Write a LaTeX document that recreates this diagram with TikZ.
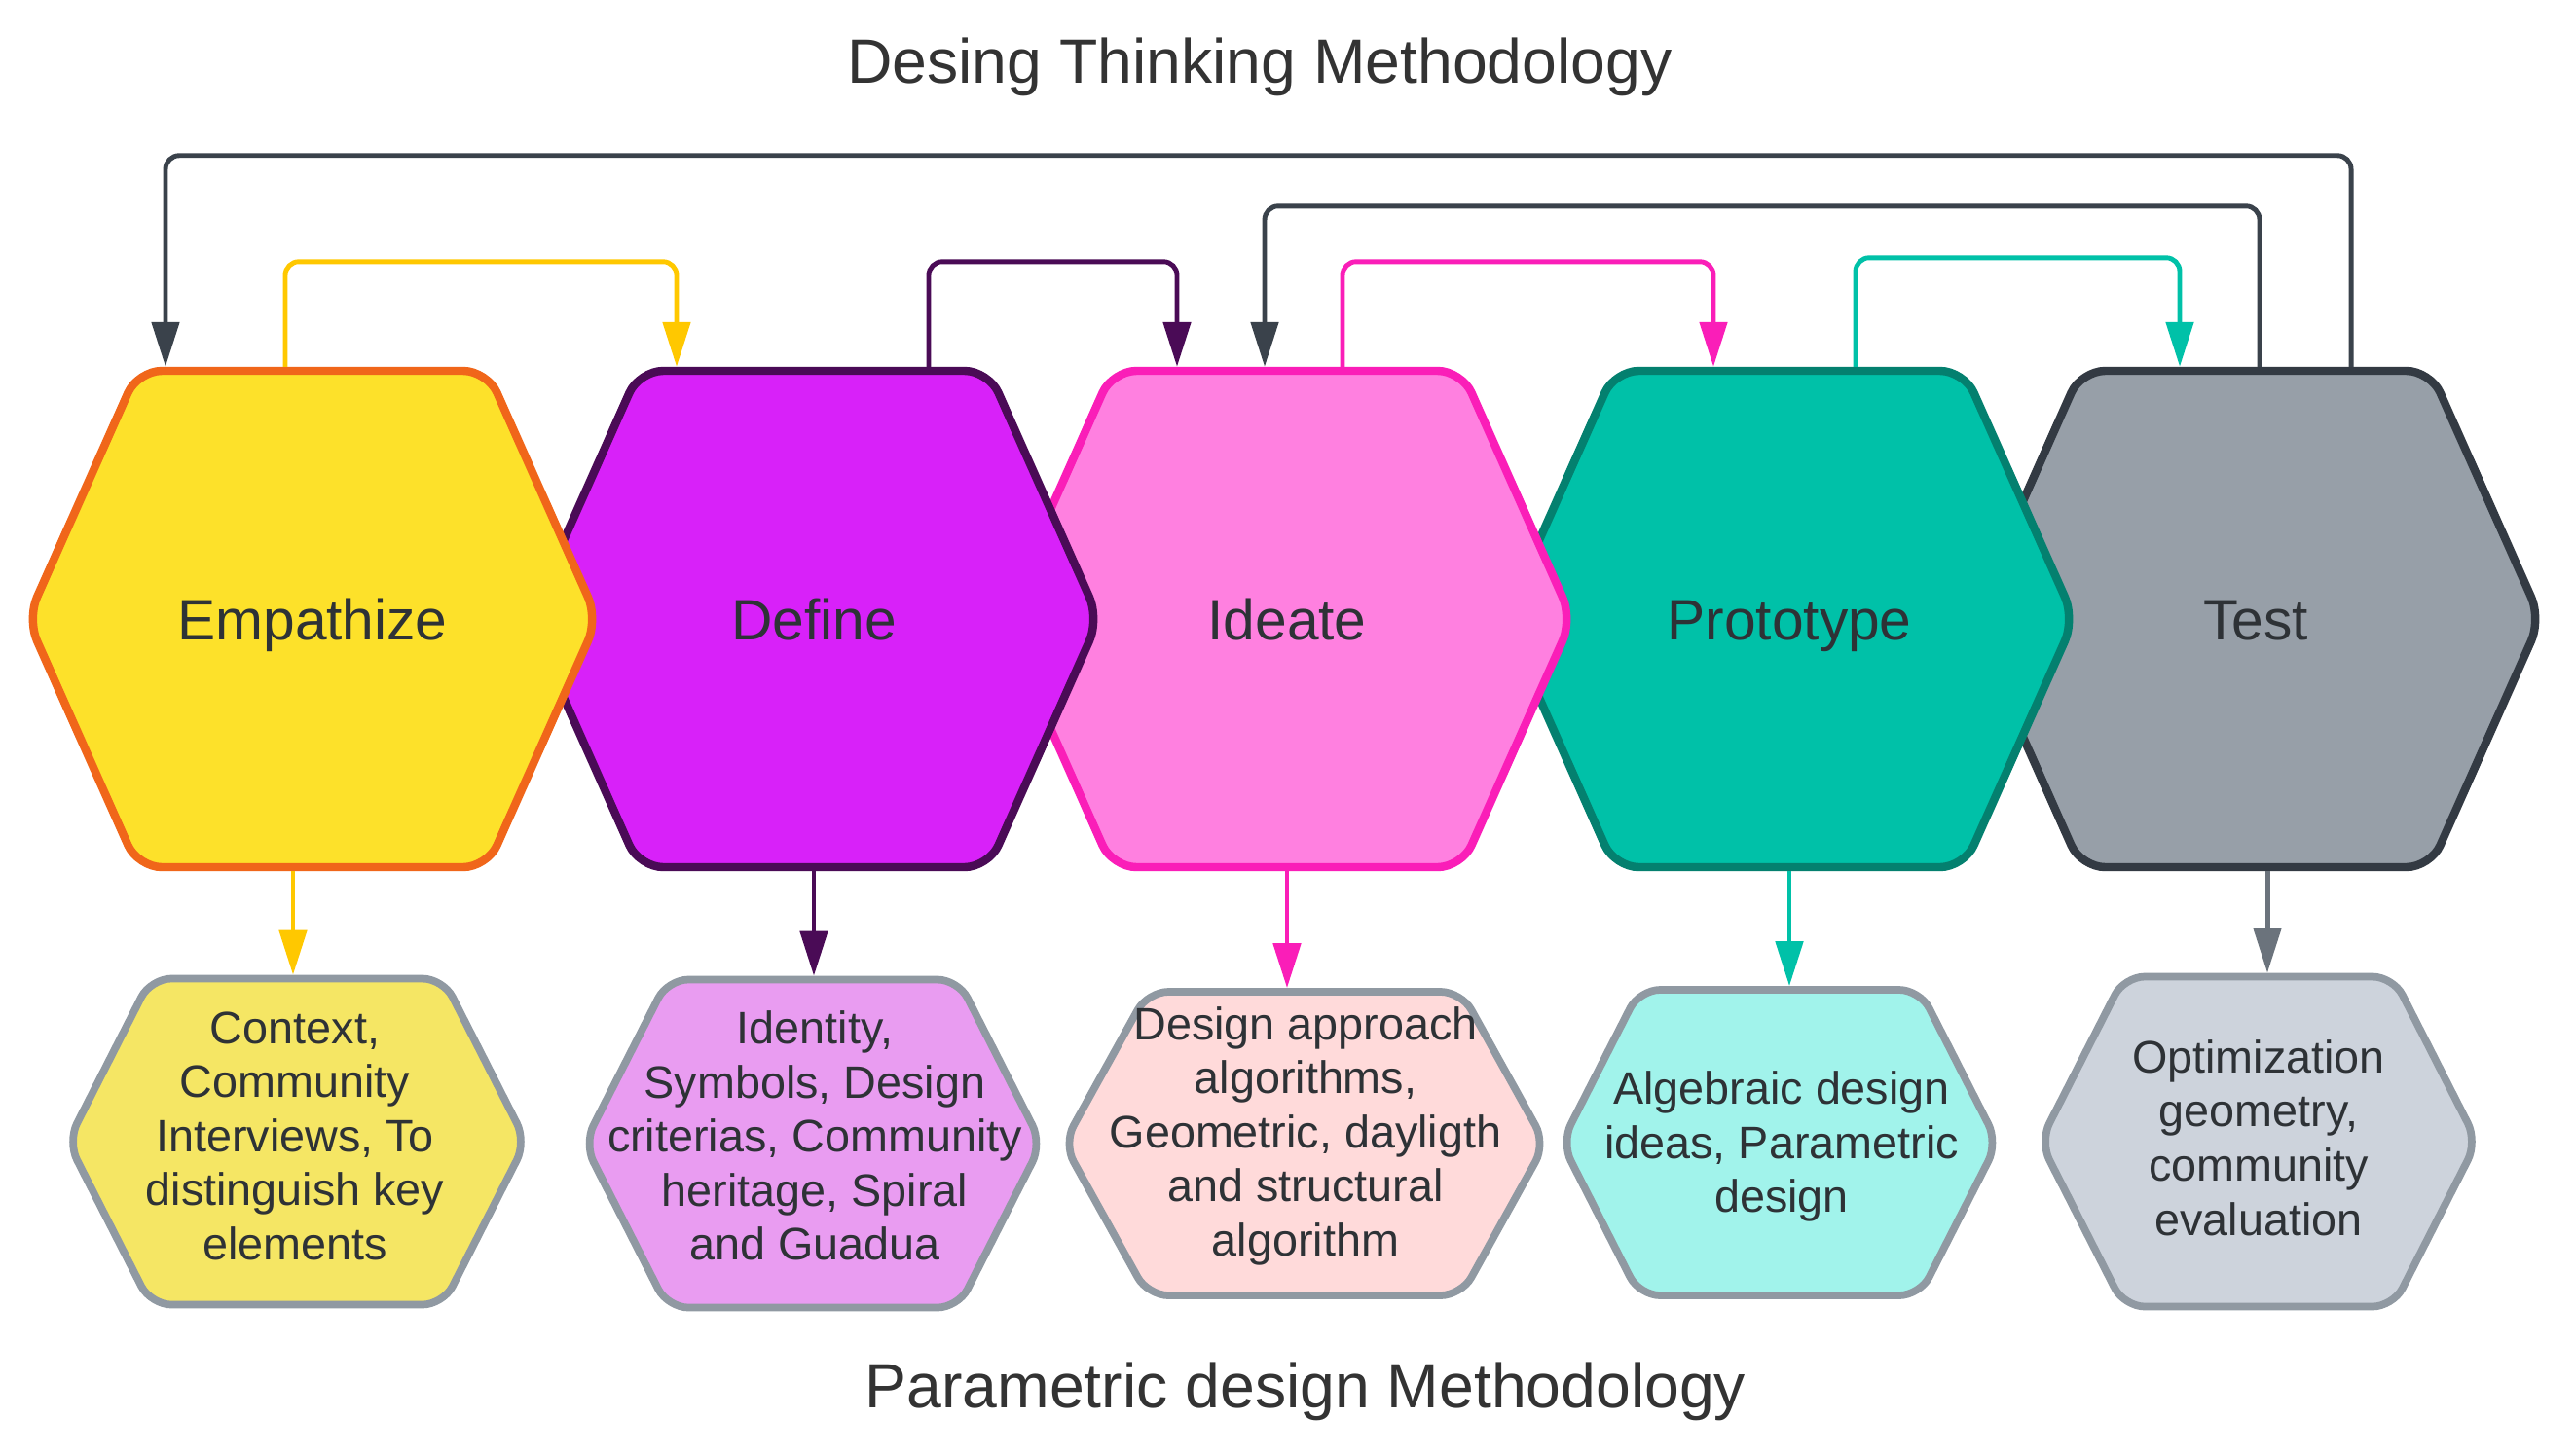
\documentclass[tikz,border=0pt]{standalone}
\usepackage{fontspec}
\setmainfont{Liberation Sans}
\usetikzlibrary{shapes.symbols,arrows.meta}
\definecolor{empfill}{HTML}{FDE12A}
\definecolor{empline}{HTML}{F0661A}
\definecolor{deffill}{HTML}{D821F9}
\definecolor{defline}{HTML}{4A0B56}
\definecolor{idefill}{HTML}{FF80E0}
\definecolor{ideline}{HTML}{FA1EB8}
\definecolor{profill}{HTML}{00C1A8}
\definecolor{proline}{HTML}{04806F}
\definecolor{tstfill}{HTML}{979FA8}
\definecolor{tstline}{HTML}{333A43}
\definecolor{ctxfill}{HTML}{F5E664}
\definecolor{idnfill}{HTML}{E99CF1}
\definecolor{dsgfill}{HTML}{FFDADA}
\definecolor{algfill}{HTML}{A1F3EB}
\definecolor{optfill}{HTML}{CDD3DC}
\definecolor{subline}{HTML}{9099A2}
\definecolor{yel}{HTML}{FFC800}
\definecolor{darkarr}{HTML}{3A424B}
\definecolor{greyarr}{HTML}{6B737C}
\definecolor{txtdark}{HTML}{2E3236}
\tikzset{
  every node/.style={text=txtdark},
  phase/.style={
    shape=signal, signal to=east and west, signal pointer angle=132,
    draw=#1line, fill=#1fill, line width=2.4pt, rounded corners=7pt,
    minimum width=5.86cm, minimum height=5.10cm, inner sep=0pt,
    text height=12pt, text depth=0pt,
    font=\fontsize{16.7}{20}\selectfont
  },
  sub/.style={
    shape=signal, signal to=east and west, signal pointer angle=126,
    draw=subline, fill=#1, line width=2.2pt, rounded corners=6pt, inner sep=0pt
  },
  subtxt/.style={align=center, inner sep=0pt, font=\fontsize{13.3}{15.8}\selectfont},
  head/.style={font=\fontsize{18.3}{22}\selectfont, text=black!80},
  flow/.style={draw=#1, line width=1.4pt, rounded corners=4pt,
    -{Triangle[length=0.46cm,width=0.28cm]}}
}

\begin{document}
\begin{tikzpicture}
\fill[white] (0,0) rectangle (26.45,-14.95);
\useasboundingbox (0,0) rectangle (26.45,-14.95);

\node[head] (top) at (12.94,-0.69) {Desing Thinking Methodology};
\node[head] (bottom) at (13.41,-14.30) {Parametric design Methodology};

% main phases, right one first so the left one sits on top
\node[phase=tst] (tst) at (23.17,-6.36) {Test};
\node[phase=pro] (pro) at (18.38,-6.36) {Prototype};
\node[phase=ide] (ide) at (13.22,-6.36) {Ideate};
\node[phase=def] (def) at (8.36,-6.36) {Define};
\node[phase=emp] (emp) at (3.21,-6.36) {Empathize};

% parametric steps
\node[sub=ctxfill, minimum width=4.71cm, minimum height=3.35cm] (ctx) at (3.05,-11.73) {};
\node[sub=idnfill, minimum width=4.70cm, minimum height=3.37cm] (idn) at (8.35,-11.75) {};
\node[sub=dsgfill, minimum width=4.95cm, minimum height=3.12cm, signal pointer angle=122] (dsg) at (13.40,-11.75) {};
\node[sub=algfill, minimum width=4.48cm, minimum height=3.14cm] (alg) at (18.28,-11.74) {};
\node[sub=optfill, minimum width=4.49cm, minimum height=3.39cm] (opt) at (23.20,-11.73) {};

\node[subtxt] (ctxtxt) at (3.03,-11.67) {Context,\\Community\\Interviews, To\\distinguish key\\elements};
\node[subtxt] (idntxt) at (8.37,-11.67) {Identity,\\Symbols, Design\\criterias, Community\\heritage, Spiral\\and Guadua};
\node[subtxt] (dsgtxt) at (13.41,-11.67) {Design approach\\algorithms,\\Geometric, dayligth\\and structural\\algorithm};
\node[subtxt] (algtxt) at (18.30,-11.78) {Algebraic design\\ideas, Parametric\\design};
\node[subtxt] (opttxt) at (23.20,-11.69) {Optimization\\geometry,\\community\\evaluation};

% feedback loops
\draw[flow=darkarr] ([xshift=0.98cm]tst.north) -- ++(0,2.17) -| ([xshift=-1.51cm]emp.north);
\draw[flow=darkarr] ([xshift=0.04cm]tst.north) -- ++(0,1.65) -| ([xshift=-0.23cm]ide.north);
\draw[flow=yel] ([xshift=-0.28cm]emp.north) -- ++(0,1.08) -| ([xshift=-1.41cm]def.north);
\draw[flow=defline] ([xshift=1.18cm]def.north) -- ++(0,1.08) -| ([xshift=-1.13cm]ide.north);
\draw[flow=ideline] ([xshift=0.57cm]ide.north) -- ++(0,1.08) -| ([xshift=-0.78cm]pro.north);
\draw[flow=profill] ([xshift=0.68cm]pro.north) -- ++(0,1.12) -| ([xshift=-0.78cm]tst.north);

% down to the parametric steps
\draw[flow=yel] ([xshift=-0.20cm]emp.south) -- ([xshift=-0.20cm]emp.south |- ctx.north);
\draw[flow=defline] (def.south) -- (def.south |- idn.north);
\draw[flow=ideline] (ide.south) -- (ide.south |- dsg.north);
\draw[flow=profill] (pro.south) -- (pro.south |- alg.north);
\draw[flow=greyarr] ([xshift=0.12cm]tst.south) -- ([xshift=0.12cm]tst.south |- opt.north);
\end{tikzpicture}
\end{document}
